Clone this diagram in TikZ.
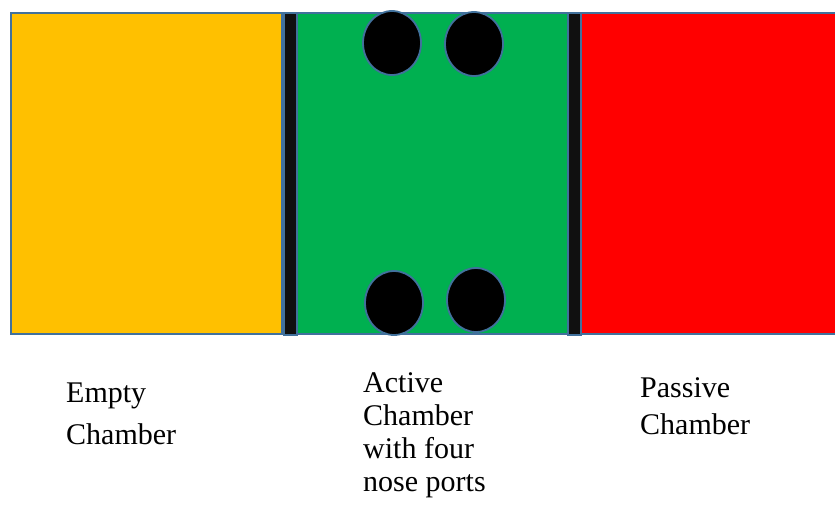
\documentclass[tikz,border=0pt]{standalone}
\usepackage{fontspec}
\setmainfont{Liberation Serif}
\definecolor{emptyyellow}{RGB}{255,192,0}
\definecolor{activegreen}{RGB}{0,176,80}
\definecolor{passivered}{RGB}{255,0,0}
\definecolor{edgeblue}{RGB}{65,113,156}
\definecolor{doorblack}{RGB}{16,16,16}
\usetikzlibrary{positioning, shapes.geometric}

\begin{document}
\begin{tikzpicture}[x=1pt, y=-1pt,
    chamber/.style={rectangle, anchor=north west, minimum height=321pt, inner sep=0pt,
      draw=edgeblue, line width=1.8pt},
    door/.style={rectangle, anchor=north west, minimum width=13pt, minimum height=322pt,
      inner sep=0pt, fill=doorblack, draw=edgeblue, line width=1.8pt},
    port/.style={ellipse, minimum width=58pt, minimum height=64pt, inner sep=0pt,
      fill=black, draw=edgeblue, line width=1.8pt},
    caption/.style={anchor=north west, inner sep=0pt, align=left, text=black},
  ]
    \useasboundingbox (0,0) rectangle (835,519);

    % the three chambers
    \node[chamber, fill=emptyyellow, minimum width=271pt] (empty) at (10,12) {};
    \node[chamber, fill=activegreen, minimum width=271pt] (active) at (296,12) {};
    \node[chamber, fill=passivered, minimum width=262pt] (passive) at (580,12) {};

    % doors between them
    \node[door] (leftdoor) at (283,12) {};
    \node[door] (rightdoor) at (567,12) {};

    % nose ports
    \node[port] (porttl) at (392,43) {};
    \node[port] (porttr) at (474,44) {};
    \node[port] (portbl) at (394,303) {};
    \node[port] (portbr) at (476,300) {};

    % labels
    \node[caption, font=\fontsize{30}{42}\selectfont] (emptylabel) at (66,383) {Empty\\Chamber};
    \node[caption, font=\fontsize{30}{33}\selectfont] (activelabel) at (363,372) {Active\\Chamber\\with four\\nose ports};
    \node[caption, font=\fontsize{30}{37}\selectfont] (passivelabel) at (640,377) {Passive\\Chamber};
  \end{tikzpicture}
\end{document}
